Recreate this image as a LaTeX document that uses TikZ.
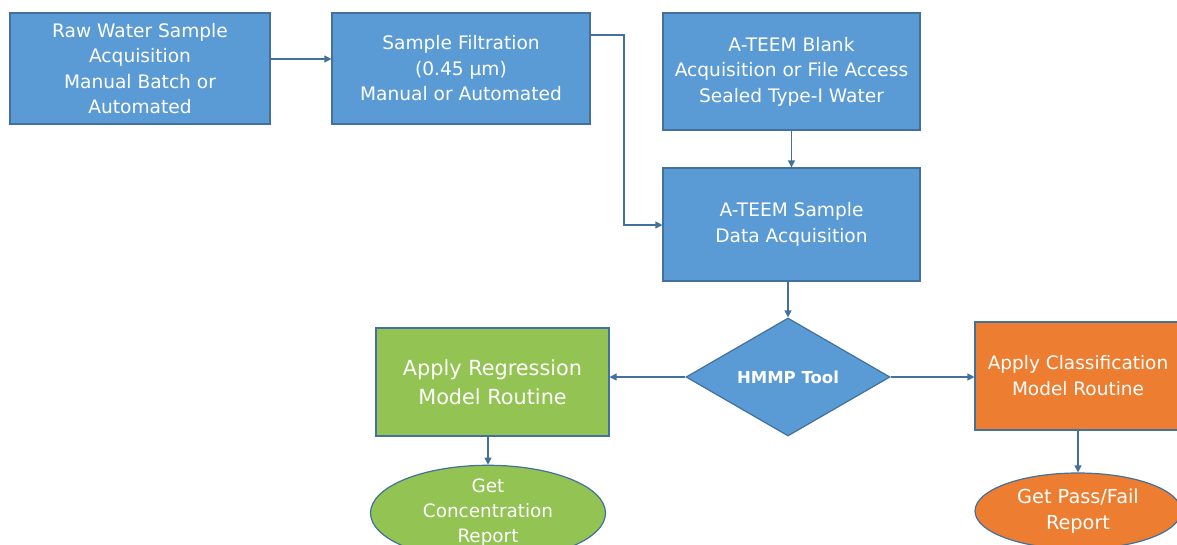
\documentclass[tikz,border=0pt]{standalone}
\usepackage{fontspec}
\setmainfont{DejaVu Sans}
\usetikzlibrary{shapes.geometric,arrows.meta}
\definecolor{boxblue}{HTML}{5B9BD5}
\definecolor{edgeblue}{HTML}{41719C}
\definecolor{boxgreen}{HTML}{92C353}
\definecolor{boxorange}{HTML}{ED7D31}
\definecolor{linkblue}{HTML}{44709C}
\tikzset{
  base/.style={draw=edgeblue, line width=1.2pt, text=white, align=center,
    inner sep=0pt, font=\fontsize{18.6}{25.5}\selectfont},
  stepbox/.style={base, rectangle, fill=boxblue},
  greenbox/.style={base, rectangle, fill=boxgreen, font=\fontsize{20.8}{29}\selectfont},
  orangebox/.style={base, rectangle, fill=boxorange, font=\fontsize{18.5}{26}\selectfont},
  greenend/.style={base, ellipse, fill=boxgreen, font=\fontsize{18.4}{25}\selectfont},
  orangeend/.style={base, ellipse, fill=boxorange, font=\fontsize{19.3}{26}\selectfont},
  decide/.style={base, diamond, aspect=1.73, fill=boxblue, font=\bfseries\fontsize{16.5}{18}\selectfont},
  link/.style={draw=linkblue, line width=1.2pt, -{Triangle[length=7pt,width=7pt]}}
}
\begin{document}
\begin{tikzpicture}[x=1pt,y=-1pt]
\useasboundingbox (0,0) rectangle (1177,544);
\fill[white] (0,0) rectangle (1177,544);

\node[stepbox, minimum width=260pt, minimum height=111pt] (raw) at (140,68.5)
  {Raw Water Sample\\Acquisition\\Manual Batch or\\Automated};
\node[stepbox, minimum width=258pt, minimum height=111pt] (filt) at (461,68.5)
  {Sample Filtration\\(0.45 µm)\\Manual or Automated};
\node[stepbox, minimum width=257pt, minimum height=117pt] (blank) at (791.5,71.5)
  {A-TEEM Blank\\Acquisition or File Access\\Sealed Type-I Water};
\node[stepbox, minimum width=257pt, minimum height=113pt] (acq) at (791.5,224.5)
  {A-TEEM Sample\\Data Acquisition};
\node[decide, minimum width=204pt, minimum height=118pt] (hmmp) at (788,377) {HMMP Tool};
\node[greenbox, minimum width=233pt, minimum height=108pt] (reg) at (492.5,382)
  {Apply Regression\\Model Routine};
\node[orangebox, minimum width=206pt, minimum height=108pt] (cls) at (1078,376)
  {Apply Classification\\Model Routine};
\node[greenend, minimum width=235pt, minimum height=84pt] (conc) at (488,513)
  {Get\\Concentration\\Report};
\node[orangeend, minimum width=206pt, minimum height=76pt] (pf) at (1078,511)
  {Get Pass/Fail\\Report};

\draw[link] (raw.east |- 0,59) -- (filt.west |- 0,59);
\coordinate (bend1) at (624,35);
\coordinate (bend2) at (624,225);
\draw[link] (filt.east |- bend1) -- (bend1) -- (bend2) -- (acq.west |- bend2);
\draw[link] (blank.south) -- (acq.north);
\draw[link] (acq.south -| hmmp.north) -- (hmmp.north);
\draw[link] (hmmp.west) -- (reg.east |- hmmp.west);
\draw[link] (hmmp.east) -- (cls.west |- hmmp.east);
\draw[link] (reg.south -| conc.north) -- (conc.north);
\draw[link] (cls.south) -- (pf.north);
\end{tikzpicture}
\end{document}
